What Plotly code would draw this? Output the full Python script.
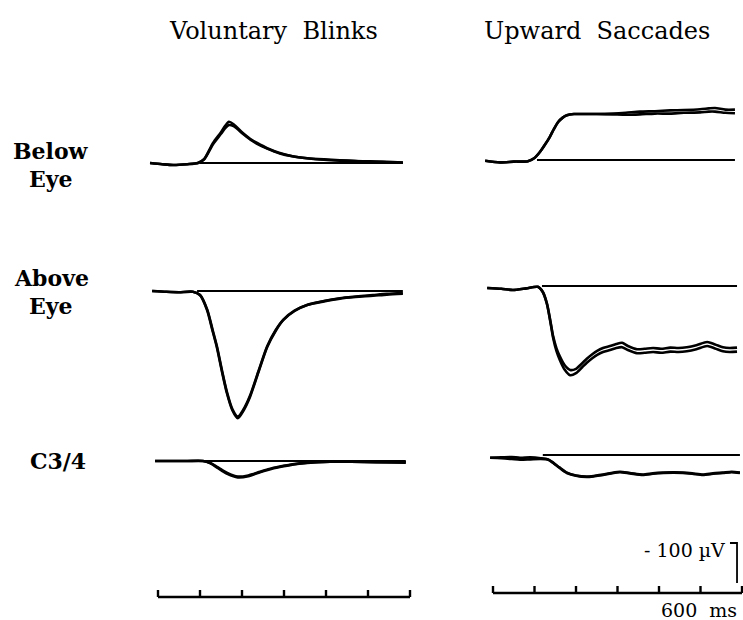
import plotly.graph_objects as go

W, H = 743, 620

# ---------------- data: time in ms, amplitude in µV (negative drawn upward) ----------------
# Voluntary blinks, electrode below the eye
lb_t = [-19, 10, 36, 70, 95, 110, 131, 150, 160, 169, 180, 202, 220, 236, 260, 290, 320, 355, 395, 433, 470, 505, 545, 583]
lb_a = [0, 3, 5, 3, 0, -10, -50, -77, -93, -103, -97, -75, -60, -50, -37, -25, -17, -12, -9, -7, -5, -4, -3, -1]
lb_b = [0, 3, 5, 3, 0, -9, -47, -73, -87, -95, -92, -73, -58, -48, -36, -24, -17, -12, -8, -6, -5, -3, -2, -1]

# Voluntary blinks, electrode above the eye
la_t = [-14, 20, 50, 83, 100, 117, 130, 140, 152, 164, 177, 190, 203, 219, 240, 260, 280, 298, 325, 355, 395, 433, 470, 512, 545, 583]
la_a = [0, 2, 3, 2, 10, 48, 100, 140, 200, 255, 298, 318, 300, 265, 200, 140, 100, 73, 50, 35, 25, 18, 14, 10, 7, 5]
la_b = [0, 2, 3, 2, 10, 46, 97, 137, 197, 252, 295, 314, 297, 262, 198, 138, 98, 72, 49, 35, 26, 19, 15, 12, 9, 7]

# Voluntary blinks, C3/4
lc_t = [-7, 30, 70, 107, 125, 143, 165, 190, 215, 243, 265, 290, 320, 355, 410, 460, 520, 590]
lc_a = [0, 0, 0, 0, 6, 18, 32, 41, 38, 28, 21, 15, 9, 5, 2, 2, 3, 3]
lc_b = [0, 0, 0, 0, 5, 16, 30, 39, 36, 27, 20, 14, 8, 4, 2, 2, 3, 4]

# Upward saccades, electrode below the eye
rb_t = [-19, 17, 50, 84, 100, 113, 125, 137, 147, 157, 168, 178, 195, 210, 250, 289, 320, 354, 390, 427, 460, 499, 520, 535, 560, 583]
rb_a = [2, 6, 4, 3, -5, -20, -38, -58, -78, -95, -106, -112, -115, -115, -115, -116, -118, -121, -122, -124, -125, -127, -129, -130, -126, -126]
rb_b = [2, 6, 4, 3, -5, -20, -38, -58, -78, -95, -106, -112, -115, -115, -115, -114, -113, -114, -116, -116, -118, -119, -121, -121, -118, -117]

# Upward saccades, electrode above the eye
ra_t = [-14, 20, 48, 80, 108, 120, 130, 138, 145, 153, 161, 172, 186, 200, 215, 226, 240, 251, 265, 282, 297, 311,
        325, 347, 365, 386, 405, 427, 447, 467, 490, 516, 535, 554, 570, 588]
ra_a = [5, 7, 10, 6, 2, 15, 45, 88, 130, 163, 185, 208, 223, 218, 203, 192, 180, 172, 165, 160, 155, 153,
        160, 168, 167, 165, 167, 164, 165, 163, 158, 150, 156, 163, 165, 164]
ra_b = [5, 7, 10, 6, 2, 15, 44, 86, 126, 156, 176, 197, 210, 207, 193, 182, 170, 162, 155, 150, 145, 142,
        150, 158, 157, 155, 157, 154, 155, 153, 148, 140, 146, 153, 155, 154]

# Upward saccades, C3/4
rc_t = [-7, 20, 45, 65, 90, 115, 133, 145, 160, 178, 200, 226, 245, 265, 285, 306, 330, 361, 385, 410, 435, 458,
        480, 506, 530, 554, 575, 595]
rc_a = [7, 8, 10, 12, 11, 10, 12, 20, 32, 45, 52, 55, 53, 50, 46, 43, 46, 50, 47, 45, 44, 45,
        47, 50, 47, 45, 43, 45]
rc_b = [7, 6, 5, 7, 6, 8, 11, 19, 31, 44, 51, 54, 52, 49, 45, 42, 45, 49, 46, 44, 43, 44,
        46, 49, 46, 44, 42, 44]

# Onset/end of the zero reference line drawn in each panel (ms)
zero_span = {
    "lb": (100, 583), "la": (93, 583), "lc": (107, 590),
    "rb": (106, 583), "ra": (118, 588), "rc": (120, 595),
}

time_ticks = [0, 100, 200, 300, 400, 500, 600]   # ms
scale_uv = 100                                    # µV calibration bar

col_titles = ["Voluntary  Blinks", "Upward  Saccades"]
row_labels = [["Below", "Eye"], ["Above", "Eye"], ["C3/4"]]

# ---------------- geometry ----------------
K = 2.5  # µV per pixel


def yp(p):
    return 1 - p / H


def xp(p):
    return p / W


# left column: 0 ms at x=158px, 0.42 px/ms ; right column: 0 ms at x=493px, 0.415 px/ms
left_dom, right_dom = (145, 415), (480, 743)
left_rng = [(145 - 158) / 0.42, (415 - 158) / 0.42]
right_rng = [(480 - 493) / 0.415, (743 - 493) / 0.415]


def trace_axis(base_px, up=70, down=140):
    return dict(domain=[yp(base_px + down), yp(base_px - up)],
                range=[down * K, -up * K], visible=False, fixedrange=True)


def bar_axis(base_px):
    # 0 at baseline pixel, 1 = 7 px above
    return dict(domain=[yp(base_px + 3), yp(base_px - 17)],
                range=[-3 / 7, 17 / 7], visible=False, fixedrange=True)


fig = go.Figure()

panels = [
    ("lb", lb_t, lb_a, lb_b, "x", "y"),
    ("rb", rb_t, rb_a, rb_b, "x2", "y2"),
    ("la", la_t, la_a, la_b, "x", "y3"),
    ("ra", ra_t, ra_a, ra_b, "x2", "y4"),
    ("lc", lc_t, lc_a, lc_b, "x", "y5"),
    ("rc", rc_t, rc_a, rc_b, "x2", "y6"),
]

for key, t, a, b, xa, ya in panels:
    z0, z1 = zero_span[key]
    fig.add_trace(go.Scatter(x=[z0, z1], y=[0, 0], mode="lines", xaxis=xa, yaxis=ya,
                             line=dict(color="black", width=1.9), hoverinfo="skip"))
    for series in (a, b):
        fig.add_trace(go.Scatter(x=t, y=series, mode="lines", xaxis=xa, yaxis=ya,
                                 line=dict(color="black", width=2.6, shape="spline", smoothing=0.7)))

# time calibration bars (one per column)
for xa, ya in (("x", "y7"), ("x2", "y8")):
    bx, by = [time_ticks[0], time_ticks[-1]], [0, 0]
    for tk in time_ticks:
        bx += [None, tk, tk]
        by += [None, 0, 1]
    fig.add_trace(go.Scatter(x=bx, y=by, mode="lines", xaxis=xa, yaxis=ya,
                             line=dict(color="black", width=2.4), hoverinfo="skip"))

# amplitude calibration bar
fig.add_trace(go.Scatter(x=[571, 588, 588], y=[-scale_uv, -scale_uv, 0], mode="lines",
                         xaxis="x2", yaxis="y9", line=dict(color="black", width=1.8), hoverinfo="skip"))

serif = "DejaVu Serif"
title_font = dict(family=serif, size=24, color="black")
label_font = dict(family=serif, size=22, color="black", weight="bold")
ann = []
ann.append(dict(text=col_titles[0], x=xp(273), y=yp(31), xref="paper", yref="paper",
                xanchor="center", yanchor="middle", showarrow=False, font=title_font))
ann.append(dict(text=col_titles[1], x=xp(482), y=yp(31), xref="paper", yref="paper",
                xanchor="left", yanchor="middle", showarrow=False, font=title_font))
label_pos = [[(51, 151), (51, 179)], [(51, 278), (51, 306)], [(58, 461)]]
for lines, pos in zip(row_labels, label_pos):
    for txt, (cx, cy) in zip(lines, pos):
        ann.append(dict(text=txt, x=xp(cx), y=yp(cy), xref="paper", yref="paper",
                        xanchor="center", yanchor="middle", showarrow=False, font=label_font))
ann.append(dict(text=f"- {scale_uv} µV", x=565, y=-83, xref="x2", yref="y9", xanchor="right",
                yanchor="middle", showarrow=False, font=dict(family=serif, size=19, color="black")))
ann.append(dict(text=f"{time_ticks[-1]}  ms", x=time_ticks[-1] - 8, y=yp(610), xref="x2", yref="paper",
                xanchor="right", yanchor="middle", showarrow=False,
                font=dict(family=serif, size=19, color="black")))

layout = dict(
    width=W, height=H, margin=dict(l=0, r=0, t=0, b=0),
    paper_bgcolor="white", plot_bgcolor="rgba(0,0,0,0)", showlegend=False,
    xaxis=dict(domain=[xp(left_dom[0]), xp(left_dom[1])], range=left_rng, visible=False, fixedrange=True),
    xaxis2=dict(domain=[xp(right_dom[0]), xp(right_dom[1])], range=right_rng, visible=False, fixedrange=True),
    yaxis=trace_axis(163),
    yaxis2=trace_axis(160),
    yaxis3=trace_axis(291),
    yaxis4=trace_axis(286),
    yaxis5=trace_axis(461),
    yaxis6=trace_axis(455),
    yaxis7=bar_axis(597),
    yaxis8=bar_axis(593),
    yaxis9=dict(domain=[yp(600), yp(530)], range=[(600 - 583) * K, -(583 - 530) * K],
                visible=False, fixedrange=True),
    annotations=ann,
)
for i in range(1, 10):
    key = "yaxis" if i == 1 else f"yaxis{i}"
    layout[key]["anchor"] = "x" if i in (1, 3, 5, 7) else "x2"
layout["xaxis"]["anchor"] = "y"
layout["xaxis2"]["anchor"] = "y2"

fig.update_layout(**layout)
fig.write_html("out.html")
